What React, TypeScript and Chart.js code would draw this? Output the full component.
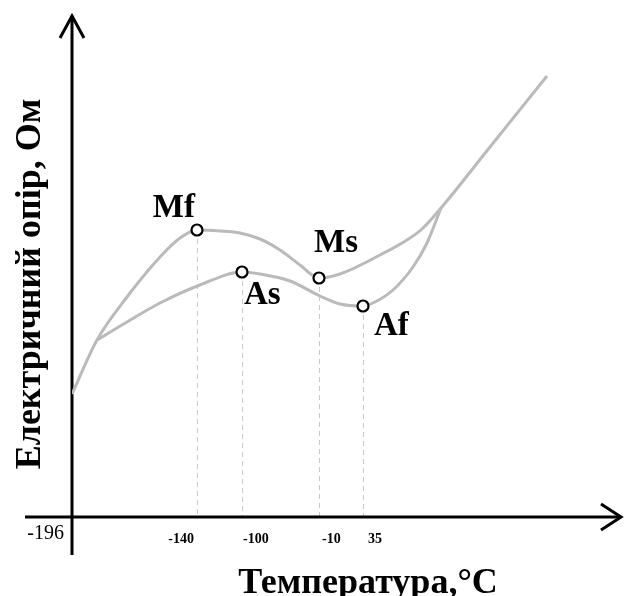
import React, { useEffect, useRef } from 'react';
import { Chart, registerables } from 'chart.js';
Chart.register(...registerables);

// Abstract positions (x: along temperature axis, y: resistance, arbitrary units)
const upperX = [0, 25, 55, 88, 108, 125, 148, 168, 188, 208, 228, 247, 268, 308, 335, 350, 369, 418, 475];
const upperY = [123, 177, 220, 260, 279, 287, 286, 284, 278, 267, 252, 239, 243, 262, 277, 288, 309, 370, 441];
const lowerX = [25, 55, 88, 128, 170, 188, 218, 248, 268, 291, 303, 321, 341, 355, 369];
const lowerY = [177, 195, 214, 232, 245, 243, 236, 221, 213, 211, 215, 227, 250, 274, 309];
const markerNames = ['Mf', 'As', 'Ms', 'Af'];
const markerTemps = ['-140', '-100', '-10', '35'];
const markerX = [125, 170, 247, 291];
const markerY = [287, 245, 239, 211];
const originLabel = '-196';
const xTitle = 'Температура,°C';
const yTitle = 'Електричний опір, Ом';

const SERIF = "'Liberation Serif', 'Times New Roman', serif";
// label offsets (style only): [dx, dy, align]
const nameOffsets: [number, number, CanvasTextAlign][] = [
  [-2, -13, 'right'],
  [2, 32, 'left'],
  [-5, -26, 'left'],
  [11, 29, 'left'],
];
const tempOffsets: [number, CanvasTextAlign][] = [
  [-3, 'right'],
  [1, 'left'],
  [3, 'left'],
  [5, 'left'],
];

const overlay = {
  id: 'overlay',
  beforeDatasetsDraw(chart: any) {
    const { ctx, scales } = chart;
    const x = scales.x, y = scales.y;
    const x0 = x.getPixelForValue(0);
    const y0 = y.getPixelForValue(0);
    ctx.save();
    // dashed drop lines
    ctx.strokeStyle = '#c8c8c8';
    ctx.lineWidth = 1;
    ctx.setLineDash([5, 4]);
    markerX.forEach((mx, i) => {
      const px = Math.round(x.getPixelForValue(mx)) + 0.5;
      ctx.beginPath();
      ctx.moveTo(px, y.getPixelForValue(markerY[i]));
      ctx.lineTo(px, y0);
      ctx.stroke();
    });
    ctx.setLineDash([]);
    // axes
    ctx.strokeStyle = '#000';
    ctx.lineWidth = 3;
    ctx.lineJoin = 'miter';
    const yTop = y.getPixelForValue(501);
    const xRight = x.getPixelForValue(549);
    ctx.beginPath();
    ctx.moveTo(x0, y.getPixelForValue(-38));
    ctx.lineTo(x0, yTop);
    ctx.stroke();
    ctx.beginPath();
    ctx.moveTo(x.getPixelForValue(-47), y0);
    ctx.lineTo(xRight, y0);
    ctx.stroke();
    // arrowheads
    ctx.beginPath();
    ctx.moveTo(x0 - 12, yTop + 22);
    ctx.lineTo(x0, yTop);
    ctx.lineTo(x0 + 12, yTop + 22);
    ctx.stroke();
    ctx.beginPath();
    ctx.moveTo(xRight - 20, y0 - 13);
    ctx.lineTo(xRight, y0);
    ctx.lineTo(xRight - 20, y0 + 13);
    ctx.stroke();
    ctx.restore();
  },
  afterDatasetsDraw(chart: any) {
    const { ctx, scales } = chart;
    const x = scales.x, y = scales.y;
    const x0 = x.getPixelForValue(0);
    const y0 = y.getPixelForValue(0);
    ctx.save();
    ctx.fillStyle = '#000';
    ctx.textBaseline = 'alphabetic';
    // marker names
    ctx.font = `bold 33px ${SERIF}`;
    markerNames.forEach((n, i) => {
      const [dx, dy, al] = nameOffsets[i];
      ctx.textAlign = al;
      ctx.fillText(n, x.getPixelForValue(markerX[i]) + dx, y.getPixelForValue(markerY[i]) + dy);
    });
    // temperature ticks
    ctx.font = `bold 14px ${SERIF}`;
    markerTemps.forEach((t, i) => {
      const [dx, al] = tempOffsets[i];
      ctx.textAlign = al;
      ctx.fillText(t, x.getPixelForValue(markerX[i]) + dx, y0 + 26);
    });
    ctx.font = `20px ${SERIF}`;
    ctx.textAlign = 'right';
    ctx.fillText(originLabel, x0 - 8, y0 + 22);
    // titles
    ctx.font = `bold 36px ${SERIF}`;
    ctx.textAlign = 'center';
    ctx.fillText(xTitle, 368, y0 + 76);
    ctx.translate(40, 284);
    ctx.rotate(-Math.PI / 2);
    ctx.fillText(yTitle, 0, 0);
    ctx.restore();
  },
};

export default function App() {
  const ref = useRef<HTMLCanvasElement>(null);
  useEffect(() => {
    if (!ref.current) return;
    const chart = new Chart(ref.current, {
      type: 'line',
      data: {
        datasets: [
          {
            type: 'scatter',
            data: markerX.map((v, i) => ({ x: v, y: markerY[i] })),
            pointRadius: 5.5,
            pointBackgroundColor: '#fff',
            pointBorderColor: '#000',
            pointBorderWidth: 2.2,
            showLine: false,
            order: 0,
          } as any,
          {
            data: upperX.map((v, i) => ({ x: v, y: upperY[i] })),
            borderColor: '#bababa',
            borderWidth: 3,
            pointRadius: 0,
            cubicInterpolationMode: 'monotone',
            fill: false,
            order: 1,
          },
          {
            data: lowerX.map((v, i) => ({ x: v, y: lowerY[i] })),
            borderColor: '#bababa',
            borderWidth: 3,
            pointRadius: 0,
            cubicInterpolationMode: 'monotone',
            fill: false,
            order: 2,
          },
        ],
      },
      options: {
        responsive: false,
        animation: false,
        devicePixelRatio: 1,
        layout: { autoPadding: false, padding: { left: 72, right: 0, top: 15, bottom: 79 } },
        scales: {
          x: { type: 'linear', min: 0, max: 552, display: false },
          y: { type: 'linear', min: 0, max: 502, display: false },
        },
        plugins: { legend: { display: false }, tooltip: { enabled: false } },
        events: [],
      },
      plugins: [overlay],
    });
    return () => chart.destroy();
  }, []);
  return (
    <div style={{ position: 'absolute', left: 0, top: 0, width: 624, height: 596, background: '#fff' }}>
      <canvas ref={ref} width={624} height={596} style={{ display: 'block' }} />
    </div>
  );
}
